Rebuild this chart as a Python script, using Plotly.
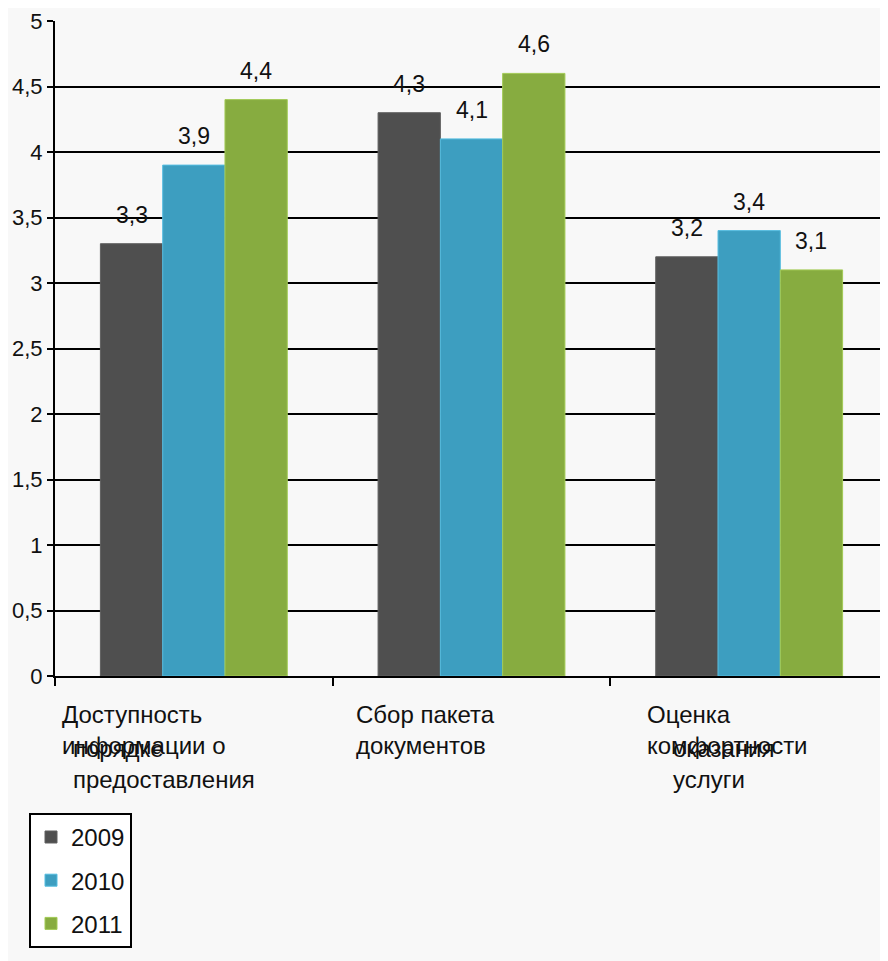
import plotly.graph_objects as go

categories = [
    "Доступность информации о порядке предоставления",
    "Сбор пакета документов",
    "Оценка комфортности оказания услуги",
]
label_main = ["Доступность<br>информации о", "Сбор пакета<br>документов", "Оценка<br>комфортности"]
label_extra = ["порядке<br>предоставления", "", "оказания<br>услуги"]

series_names = ["2009", "2010", "2011"]
values_2009 = [3.3, 4.3, 3.2]
values_2010 = [3.9, 4.1, 3.4]
values_2011 = [4.4, 4.6, 3.1]
all_values = [values_2009, values_2010, values_2011]
colors = ["#4f4f4f", "#3d9ec0", "#87ac40"]
line_colors = ["#606060", "#55bde0", "#a3cb55"]

FONT = "Liberation Sans, Arial, sans-serif"

fig = go.Figure()
for name, vals, c, lc in zip(series_names, all_values, colors, line_colors):
    fig.add_trace(go.Bar(
        x=categories, y=vals, name=name, legendgroup=name,
        marker=dict(color=c, line=dict(color=lc, width=1)),
        hovertemplate=name + ": %{y}<extra></extra>",
    ))

bargap = 0.327
bw = (1 - bargap) / 3
annotations = []
for j, vals in enumerate(all_values):
    for i, v in enumerate(vals):
        annotations.append(dict(
            x=i + (j - 1) * bw, y=v, xref="x", yref="y",
            text=f"{v:.1f}".replace(".", ","), showarrow=False,
            yanchor="bottom", yshift=14,
            font=dict(family=FONT, size=23, color="#111"),
        ))

main_shift = [5, 21, 35]
extra_shift = [16, 0, 61]
for i in range(len(categories)):
    annotations.append(dict(
        x=i - 0.5, y=0, xref="x", yref="paper", xanchor="left", yanchor="top",
        xshift=main_shift[i], yshift=-23, align="left", showarrow=False,
        text=label_main[i], font=dict(family=FONT, size=24, color="#111"),
    ))
    if label_extra[i]:
        annotations.append(dict(
            x=i - 0.5, y=0, xref="x", yref="paper", xanchor="left", yanchor="top",
            xshift=extra_shift[i], yshift=-57, align="left", showarrow=False,
            text=label_extra[i], font=dict(family=FONT, size=24, color="#111"),
        ))

fig.update_layout(
    width=880, height=953,
    margin=dict(l=47, r=0, t=13, b=285, autoexpand=False),
    paper_bgcolor="#f8f8f8", plot_bgcolor="rgba(0,0,0,0)",
    barmode="group", bargap=bargap, bargroupgap=0,
    separators=", ",
    font=dict(family=FONT, size=22, color="#111"),
    annotations=annotations,
    showlegend=True,
    legend=dict(
        x=-0.0312, y=-0.209, xanchor="left", yanchor="top",
        bgcolor="white", bordercolor="black", borderwidth=2,
        font=dict(family=FONT, size=24, color="#111"),
        tracegroupgap=9,
    ),
)
fig.update_xaxes(
    showline=True, linecolor="black", linewidth=2,
    ticks="outside", tickson="boundaries", ticklen=8, tickcolor="black", tickwidth=2,
    showticklabels=False, showgrid=False, zeroline=False,
)
fig.update_yaxes(
    range=[0, 5], dtick=0.5, tick0=0,
    showline=True, linecolor="black", linewidth=2,
    ticks="outside", ticklen=6, tickcolor="black", tickwidth=2,
    showgrid=True, gridcolor="black", gridwidth=1.6, zeroline=False,
    tickfont=dict(family=FONT, size=22, color="#111"),
)

fig.write_html("out.html")
